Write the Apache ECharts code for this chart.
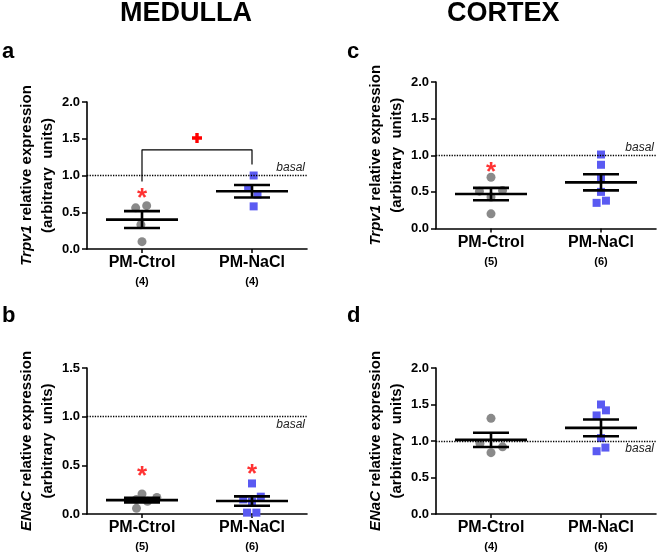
<!DOCTYPE html>
<html>
<head>
<meta charset="utf-8">
<script src="https://cdn.jsdelivr.net/npm/echarts@6/dist/echarts.min.js"></script>
<style>
  html, body { margin: 0; padding: 0; background: #fff; }
  #chart { width: 661px; height: 554px; }
</style>
</head>
<body>
<div id="chart"></div>
<script>
var FONT = 'Liberation Sans, Arial, sans-serif';

// groups on the x axis
var groups = ['PM-Ctrol', 'PM-NaCl'];
var groupPos = [1, 3];
var nA = ['(4)', '(4)'];
var nB = ['(5)', '(6)'];
var nC = ['(5)', '(6)'];
var nD = ['(4)', '(6)'];

// a : medulla Trpv1
var aCtrl = [[0.885, 0.56], [1.085, 0.59], [0.98, 0.33], [1.0, 0.10]];
var aNacl = [[3.03, 1.0], [2.93, 0.83], [3.1, 0.74], [3.03, 0.58]];
var aStats = [[1, 0.40, 0.115], [3, 0.785, 0.085]];   // x, mean, sem
var aStars = [[1, 0.75]];
var aPlus = [[2, 1.51]];
var aBracket = [[1, 0.92], [1, 1.35], [3, 1.35], [3, 1.15]];

// b : medulla ENaC
var bCtrl = [[1.0, 0.205], [1.27, 0.17], [0.9, 0.15], [1.1, 0.13], [0.9, 0.058]];
var bNacl = [[3.0, 0.314], [3.16, 0.178], [2.84, 0.15], [3.0, 0.126], [2.91, 0.014], [3.08, 0.014]];
var bStats = [[1, 0.143, 0.024], [3, 0.133, 0.048]];
var bStars = [[1, 0.434], [3, 0.45]];

// c : cortex Trpv1
var cCtrl = [[1, 0.70], [0.79, 0.51], [1.21, 0.52], [1, 0.43], [1, 0.20]];
var cNacl = [[3, 1.01], [3, 0.87], [3, 0.70], [3, 0.50], [3.09, 0.38], [2.92, 0.35]];
var cStats = [[1, 0.47, 0.085], [3, 0.63, 0.11]];
var cStars = [[1, 0.83]];

// d : cortex ENaC
var dCtrl = [[1, 1.31], [0.8, 0.966], [1.21, 0.92], [1, 0.84]];
var dNacl = [[3, 1.50], [3.09, 1.42], [2.92, 1.35], [3.08, 0.91], [2.92, 0.86], [3, 1.04]];
var dStats = [[1, 1.015, 0.097], [3, 1.18, 0.115]];
var dStars = [];

var yMax = [2, 1.5, 2, 2];
var gene = ['Trpv1', 'ENaC', 'Trpv1', 'ENaC'];
var counts = [nA, nB, nC, nD];
var basalPos = ['insideEndTop', 'insideEndBottom', 'insideEndTop', 'insideEndBottom'];

var grids = [
  {left: 87, top: 102, width: 220, height: 147},
  {left: 87, top: 368, width: 220, height: 146},
  {left: 436, top: 82, width: 220, height: 146.5},
  {left: 436, top: 368, width: 220, height: 146}
];

function renderStats(params, api) {
  var x = api.value(0), m = api.value(1), s = api.value(2);
  var c = api.coord([x, m]);
  var hi = api.coord([x, m + s]);
  var lo = api.coord([x, m - s]);
  var st = {stroke: '#000', lineWidth: 2.6};
  return {
    type: 'group',
    children: [
      {type: 'line', shape: {x1: c[0] - 36, y1: c[1], x2: c[0] + 36, y2: c[1]}, style: st},
      {type: 'line', shape: {x1: c[0], y1: hi[1], x2: c[0], y2: lo[1]}, style: st},
      {type: 'line', shape: {x1: c[0] - 18, y1: hi[1], x2: c[0] + 18, y2: hi[1]}, style: st},
      {type: 'line', shape: {x1: c[0] - 18, y1: lo[1], x2: c[0] + 18, y2: lo[1]}, style: st}
    ]
  };
}

var xAxes = [], yAxes = [], series = [];
var panels = [
  {ctrl: aCtrl, nacl: aNacl, stats: aStats, stars: aStars},
  {ctrl: bCtrl, nacl: bNacl, stats: bStats, stars: bStars},
  {ctrl: cCtrl, nacl: cNacl, stats: cStats, stars: cStars},
  {ctrl: dCtrl, nacl: dNacl, stats: dStats, stars: dStars}
];

panels.forEach(function (p, i) {
  xAxes.push({
    gridIndex: i, type: 'value', min: 0, max: 4,
    axisLine: {lineStyle: {color: '#000', width: 1.6}},
    axisTick: {customValues: groupPos, length: 4, lineStyle: {color: '#000', width: 1.5}},
    splitLine: {show: false},
    axisLabel: {
      customValues: groupPos, margin: 4,
      formatter: function (v) {
        var k = groupPos.indexOf(v);
        return k < 0 ? '' : '{c|' + groups[k] + '}\n{n|' + counts[i][k] + '}';
      },
      rich: {
        c: {fontFamily: FONT, fontSize: 16, fontWeight: 'bold', color: '#000', lineHeight: 20},
        n: {fontFamily: FONT, fontSize: 11, fontWeight: 'bold', color: '#000', lineHeight: 18}
      }
    }
  });
  yAxes.push({
    gridIndex: i, type: 'value', min: 0, max: yMax[i], interval: 0.5,
    axisLine: {show: true, lineStyle: {color: '#000', width: 1.6}},
    axisTick: {show: true, length: 5, lineStyle: {color: '#000', width: 1.5}},
    splitLine: {show: false},
    axisLabel: {
      margin: 7, fontFamily: FONT, fontSize: 13, fontWeight: 'bold', color: '#000',
      formatter: function (v) { return v.toFixed(1); }
    },
    name: '{i|' + gene[i] + '} relative expression\n(arbitrary  units)',
    nameLocation: 'middle', nameGap: 26, nameRotate: 90,
    nameTextStyle: {
      fontFamily: FONT, fontSize: 15, fontWeight: 'bold', color: '#000', lineHeight: 21,
      rich: {i: {fontFamily: FONT, fontSize: 15, fontWeight: 'bold', fontStyle: 'italic', color: '#000', lineHeight: 21}}
    }
  });
  series.push({
    type: 'scatter', xAxisIndex: i, yAxisIndex: i, data: p.ctrl,
    symbol: 'circle', symbolSize: 9, itemStyle: {color: '#8a8a8a', opacity: 1}, z: 2,
    markLine: {
      silent: true, symbol: 'none',
      lineStyle: {type: 'dotted', color: '#000', width: 1.3},
      label: {
        show: true, position: basalPos[i], formatter: 'basal',
        fontFamily: FONT, fontSize: 12, fontStyle: 'italic', color: '#222', distance: 2
      },
      data: [{yAxis: 1}]
    }
  });
  series.push({
    type: 'scatter', xAxisIndex: i, yAxisIndex: i, data: p.nacl,
    symbol: 'rect', symbolSize: 8, itemStyle: {color: '#5a5af2', opacity: 1}, z: 2
  });
  series.push({
    type: 'custom', xAxisIndex: i, yAxisIndex: i, data: p.stats,
    renderItem: renderStats, encode: {x: 0, y: 1}, z: 3
  });
  series.push({
    type: 'scatter', xAxisIndex: i, yAxisIndex: i, data: p.stars,
    symbol: 'circle', symbolSize: 1, itemStyle: {color: 'rgba(0,0,0,0)'}, z: 4,
    label: {
      show: true, position: 'inside', formatter: '*', offset: [0, 5],
      fontFamily: FONT, fontSize: 26, fontWeight: 'bold', color: '#ff0000'
    }
  });
});

// comparison bracket and sign in panel a
series.push({
  type: 'line', xAxisIndex: 0, yAxisIndex: 0, data: aBracket,
  symbol: 'none', lineStyle: {color: '#000', width: 1.2}, z: 1
});
series.push({
  type: 'scatter', xAxisIndex: 0, yAxisIndex: 0, data: aPlus,
  symbol: 'path://M3.3,0H6.7V3.3H10V6.7H6.7V10H3.3V6.7H0V3.3H3.3Z',
  symbolSize: 10, itemStyle: {color: '#ff0000', opacity: 1}, z: 4
});

var titleStyle = {fontFamily: FONT, fontSize: 27, fontWeight: 'bold', fill: '#000'};
var letterStyle = {fontFamily: FONT, fontSize: 22, fontWeight: 'bold', fill: '#000'};

var option = {
  animation: false,
  backgroundColor: '#fff',
  grid: grids,
  xAxis: xAxes,
  yAxis: yAxes,
  series: series,
  graphic: [
    {type: 'text', left: 120, top: 0, style: Object.assign({text: 'MEDULLA'}, titleStyle)},
    {type: 'text', left: 447, top: 0, style: Object.assign({text: 'CORTEX'}, titleStyle)},
    {type: 'text', left: 2, top: 41, style: Object.assign({text: 'a'}, letterStyle)},
    {type: 'text', left: 2, top: 305, style: Object.assign({text: 'b'}, letterStyle)},
    {type: 'text', left: 347, top: 41, style: Object.assign({text: 'c'}, letterStyle)},
    {type: 'text', left: 347, top: 305, style: Object.assign({text: 'd'}, letterStyle)}
  ]
};

var myChart = echarts.init(document.getElementById('chart'));
myChart.setOption(option);
</script>
</body>
</html>
